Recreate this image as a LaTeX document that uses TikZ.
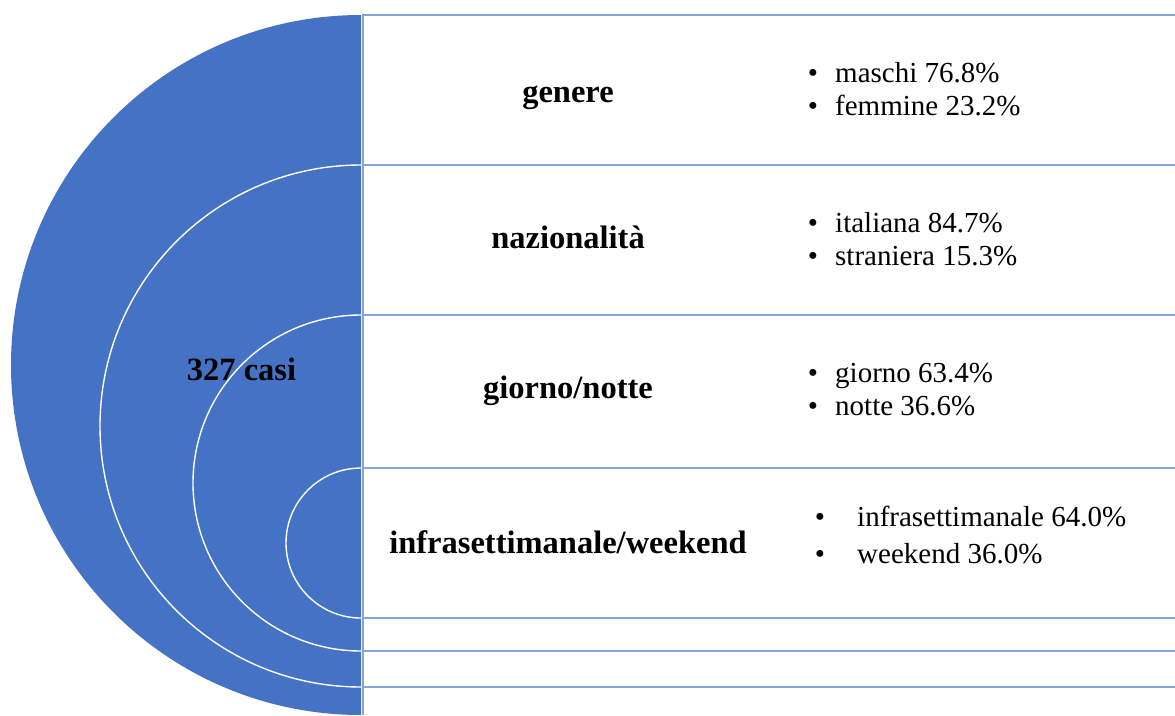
\documentclass[tikz,border=0pt]{standalone}
\usepackage{fontspec}
\setmainfont{Liberation Serif}
\definecolor{ringblue}{RGB}{68,114,196}
\definecolor{gridblue}{RGB}{134,163,218}
\begin{document}
\begin{tikzpicture}[x=1pt,y=-1pt,
  ring/.style={draw=white,line width=1.4pt},
  gridline/.style={draw=gridblue,line width=1.6pt},
  head/.style={font=\fontsize{32.5}{36}\selectfont\bfseries,anchor=base,inner sep=0pt},
  item/.style={font=\fontsize{29}{33}\selectfont,anchor=base west,inner sep=0pt},
  dot/.style={font=\fontsize{29}{33}\selectfont,anchor=base,inner sep=0pt}]
\useasboundingbox (0,0) rectangle (1175,715);

% half disc and nested half rings
\fill[ringblue] (361,15) arc[start angle=270,end angle=90,radius=350] -- cycle;
\draw[ring] (361,165) arc[start angle=270,end angle=90,radius=261];
\draw[ring] (361,315) arc[start angle=270,end angle=90,radius=168];
\draw[ring] (361,468) arc[start angle=270,end angle=90,radius=75];

% table rules
\draw[gridline] (363,15) -- (363,715);
\foreach \yy in {15,165,315,468,618,651,687}
  \draw[gridline] (362,\yy) -- (1175,\yy);

% centre label
\node[head] (casi) at (241.5,380) {327 casi};

% row headings
\node[head] (h1) at (568,102) {genere};
\node[head] (h2) at (568,248) {nazionalità};
\node[head] (h3) at (568,398) {giorno/notte};
\node[head] (h4) at (568,553) {infrasettimanale/weekend};

% row values
\node[dot] (d11) at (813,82) {•};
\node[item] (v11) at (835,82) {maschi 76.8\%};
\node[dot] (d12) at (813,115) {•};
\node[item] (v12) at (835,115) {femmine 23.2\%};

\node[dot] (d21) at (813,232) {•};
\node[item] (v21) at (835,232) {italiana 84.7\%};
\node[dot] (d22) at (813,265) {•};
\node[item] (v22) at (835,265) {straniera 15.3\%};

\node[dot] (d31) at (813,382) {•};
\node[item] (v31) at (835,382) {giorno 63.4\%};
\node[dot] (d32) at (813,415) {•};
\node[item] (v32) at (835,415) {notte 36.6\%};

\node[dot] (d41) at (820,526) {•};
\node[item] (v41) at (857,526) {infrasettimanale 64.0\%};
\node[dot] (d42) at (820,563) {•};
\node[item] (v42) at (857,563) {weekend 36.0\%};
\end{tikzpicture}
\end{document}
